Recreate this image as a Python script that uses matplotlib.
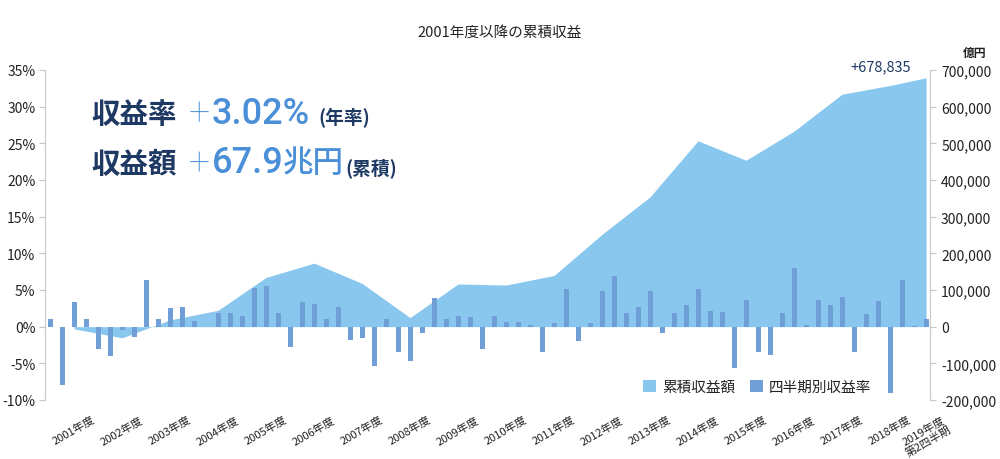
import matplotlib
matplotlib.use("Agg")
import matplotlib.pyplot as plt
from matplotlib.patches import Patch
from matplotlib.ticker import FuncFormatter
import numpy as np

plt.rcParams['font.family'] = ['Noto Sans CJK JP', 'DejaVu Sans']

# ---------------- data ----------------
title = "2001年度以降の累積収益"
fy_labels = ["2001年度", "2002年度", "2003年度", "2004年度", "2005年度", "2006年度",
             "2007年度", "2008年度", "2009年度", "2010年度", "2011年度", "2012年度",
             "2013年度", "2014年度", "2015年度", "2016年度", "2017年度", "2018年度",
             "2019年度\n第2四半期"]
# cumulative return (億円) at each fiscal-year end (last: 2019 Q2)
cumulative = [-5874, -30405, 18511, 44638, 134257, 173318, 118140, 24659, 116509,
              113510, 139602, 251824, 354031, 506953, 453855, 533218, 634028,
              657823, 678835]
# quarterly return rate (%) 2001Q1 .. 2019Q2
quarterly = [1.1, -7.9, 3.3, 1.1, -3.0, -4.0, -0.5, -1.4, 6.3, 1.0, 2.5, 2.7,
             0.8, -0.1, 1.9, 1.9, 1.5, 5.3, 5.5, 1.8, -2.8, 3.3, 3.1, 1.1,
             2.7, -1.8, -1.6, -5.4, 1.1, -3.4, -4.7, -0.8, 3.9, 1.1, 1.5, 1.3,
             -3.0, 1.5, 0.6, 0.7, 0.2, -3.4, 0.5, 5.2, -1.9, 0.5, 4.9, 6.9, 1.9,
             2.7, 4.8, -0.8, 1.8, 2.9, 5.2, 2.2, 2.0, -5.6, 3.6, -3.5, -3.9, 1.9,
             8.0, 0.2, 3.6, 3.0, 4.0, -3.5, 1.7, 3.5, -9.1, 6.3, 0.1, 1.1]
pct_ticks = [-10, -5, 0, 5, 10, 15, 20, 25, 30, 35]
yen_ticks = [-200000, -100000, 0, 100000, 200000, 300000, 400000, 500000, 600000, 700000]
legend_labels = ["累積収益額", "四半期別収益率"]
annual_rate = "3.02%"
total_amount_num = "67.9"
total_amount_unit = "兆円"

# ---------------- style ----------------
AREA = "#89c7ee"
BAR = "#6f9fd6"
NAVY = "#1e3a64"
BLUE = "#4a8fd8"
AXC = "#c8c8c8"
TXT = "#222222"
NUMFONT = ['Roboto', 'Noto Sans CJK JP', 'DejaVu Sans']

W, H = 1000, 460
fig = plt.figure(figsize=(10, 4.6), dpi=100)
fig.patch.set_facecolor("white")

def fx(px):
    return px / W

def fy(py):
    return 1 - py / H

ax = fig.add_axes([fx(45), fy(401), fx(885), 330 / H])
ax2 = ax.twinx()
ax.set_zorder(2)
ax.patch.set_visible(False)

nq = len(quarterly)
xq = np.arange(nq)
x_points = [4 * k + 2 for k in range(len(cumulative) - 1)] + [nq - 1]

ax2.fill_between(x_points, 0, cumulative, color=AREA, linewidth=0)
ax.bar(xq, quarterly, width=0.42, color=BAR, linewidth=0)

ax.set_xlim(-0.42, 73.33)
ax.set_ylim(-10, 35)
ax2.set_ylim(-200000, 700000)

ax.set_yticks(pct_ticks)
ax.yaxis.set_major_formatter(FuncFormatter(lambda v, p: f"{int(v)}%"))
ax2.set_yticks(yen_ticks)
ax2.yaxis.set_major_formatter(FuncFormatter(lambda v, p: f"{int(v):,}"))

for a in (ax, ax2):
    for s in ("top", "bottom"):
        a.spines[s].set_visible(False)
ax.spines["right"].set_visible(False)
ax2.spines["left"].set_visible(False)
ax.spines["left"].set_color(AXC)
ax2.spines["right"].set_color(AXC)
ax.tick_params(axis="y", length=4, color=AXC, labelsize=10, labelcolor=TXT, pad=3)
ax2.tick_params(axis="y", length=4, color=AXC, labelsize=10, labelcolor=TXT, pad=4)

ax.set_xticks(x_points)
ax.set_xticklabels(fy_labels, rotation=30, ha="center", fontsize=8.0, color=TXT,
                   linespacing=1.0)
ax.tick_params(axis="x", length=0, pad=10)

# title and unit
fig.text(0.5, fy(33), title, ha="center", va="center", fontsize=10.5, color=TXT)
fig.text(fx(975), fy(53), "億円", ha="center", va="center", fontsize=8.5,
         color=TXT, fontweight="bold")

# annotation of last cumulative value
ax2.annotate(f"+{cumulative[-1]:,}", xy=(x_points[-1], cumulative[-1]),
             xytext=(-33, 8), textcoords="offset points", ha="center",
             va="center", fontsize=10.5, color=NAVY)

# headline texts
for ypix, label, num, unit, paren, px_paren in (
        (115, "収益率", annual_rate, "", "(年率)", 318),
        (165, "収益額", total_amount_num, total_amount_unit, "(累積)", 345)):
    fig.text(fx(91), fy(ypix), label, ha="left", va="center", fontsize=20.5,
             fontweight="bold", color=NAVY)
    fig.text(fx(189), fy(ypix - 1), "+", ha="left", va="center", fontsize=27,
             fontweight="light", color=BLUE, family=NUMFONT)
    fig.text(fx(212), fy(ypix - 1), num, ha="left", va="center", fontsize=26,
             fontweight="medium", color=BLUE, family=NUMFONT)
    if unit:
        fig.text(fx(283), fy(ypix - 1), unit, ha="left", va="center", fontsize=22,
                 fontweight="medium", color=BLUE)
    fig.text(fx(px_paren), fy(ypix + 3), paren, ha="left", va="center",
             fontsize=13.5, fontweight="bold", color=NAVY)

# legend
handles = [Patch(facecolor=AREA, edgecolor="none"), Patch(facecolor=BAR, edgecolor="none")]
fig.legend(handles, legend_labels, loc="center left",
           bbox_to_anchor=(fx(630), fy(388)), ncol=2, frameon=False,
           handlelength=0.9, handleheight=0.9, handletextpad=0.4,
           columnspacing=1.0, fontsize=10.5, labelcolor=TXT)

fig.savefig("out.png", dpi=100, facecolor="white")
